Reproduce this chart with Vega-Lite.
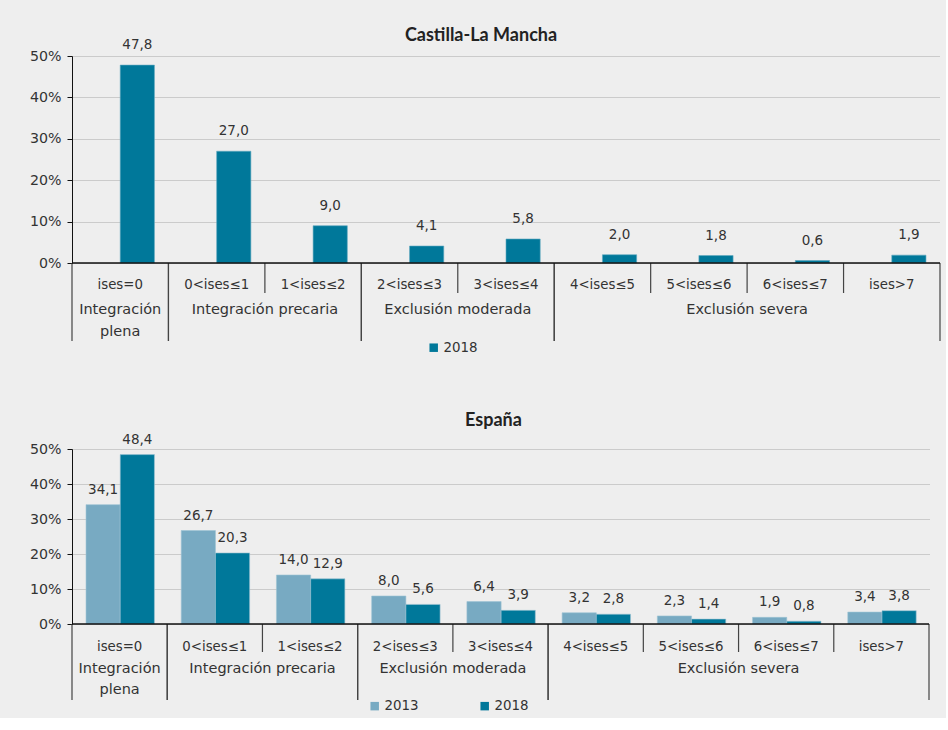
{
  "$schema": "https://vega.github.io/schema/vega-lite/v6.json",
  "background": "#EEEEEE",
  "padding": {"left": 29, "top": 27, "right": 5, "bottom": 5},
  "spacing": 56,
  "config": {
    "locale": {"number": {"decimal": ",", "thousands": ".", "grouping": [3], "currency": ["", " €"]}},
    "font": "DejaVu Sans",
    "view": {"stroke": null},
    "title": {"fontSize": 18, "fontWeight": "bold", "color": "#222222", "font": "Lato"},
    "axis": {"labelFont": "DejaVu Sans", "labelFontSize": 14.2, "labelColor": "#333333", "labelOverlap": false, "grid": true, "gridColor": "#A8A8A8", "gridDash": [1, 1], "gridWidth": 1, "gridOpacity": 1, "domainColor": "#111111", "tickColor": "#111111", "tickSize": 5, "labelPadding": 6, "title": null}
  },
  "resolve": {"scale": {"color": "independent"}, "legend": {"color": "independent"}},
  "datasets": {
    "clm": [
      {"cat": "ises=0", "year": "2018", "value": 47.8},
      {"cat": "0<ises≤1", "year": "2018", "value": 27.0},
      {"cat": "1<ises≤2", "year": "2018", "value": 9.0},
      {"cat": "2<ises≤3", "year": "2018", "value": 4.1},
      {"cat": "3<ises≤4", "year": "2018", "value": 5.8},
      {"cat": "4<ises≤5", "year": "2018", "value": 2.0},
      {"cat": "5<ises≤6", "year": "2018", "value": 1.8},
      {"cat": "6<ises≤7", "year": "2018", "value": 0.6},
      {"cat": "ises>7", "year": "2018", "value": 1.9}
    ],
    "esp": [
      {"cat": "ises=0", "year": "2013", "value": 34.1},
      {"cat": "ises=0", "year": "2018", "value": 48.4},
      {"cat": "0<ises≤1", "year": "2013", "value": 26.7},
      {"cat": "0<ises≤1", "year": "2018", "value": 20.3},
      {"cat": "1<ises≤2", "year": "2013", "value": 14.0},
      {"cat": "1<ises≤2", "year": "2018", "value": 12.9},
      {"cat": "2<ises≤3", "year": "2013", "value": 8.0},
      {"cat": "2<ises≤3", "year": "2018", "value": 5.6},
      {"cat": "3<ises≤4", "year": "2013", "value": 6.4},
      {"cat": "3<ises≤4", "year": "2018", "value": 3.9},
      {"cat": "4<ises≤5", "year": "2013", "value": 3.2},
      {"cat": "4<ises≤5", "year": "2018", "value": 2.8},
      {"cat": "5<ises≤6", "year": "2013", "value": 2.3},
      {"cat": "5<ises≤6", "year": "2018", "value": 1.4},
      {"cat": "6<ises≤7", "year": "2013", "value": 1.9},
      {"cat": "6<ises≤7", "year": "2018", "value": 0.8},
      {"cat": "ises>7", "year": "2013", "value": 3.4},
      {"cat": "ises>7", "year": "2018", "value": 3.8}
    ],
    "cats": [
      {"cat": "ises=0"}, {"cat": "0<ises≤1"}, {"cat": "1<ises≤2"}, {"cat": "2<ises≤3"}, {"cat": "3<ises≤4"},
      {"cat": "4<ises≤5"}, {"cat": "5<ises≤6"}, {"cat": "6<ises≤7"}, {"cat": "ises>7"}
    ],
    "groups": [
      {"grupo": "Integración plena", "first": "ises=0", "last": "ises=0", "anchor": "ises=0"},
      {"grupo": "Integración precaria", "first": "0<ises≤1", "last": "1<ises≤2", "anchor": "1<ises≤2"},
      {"grupo": "Exclusión moderada", "first": "2<ises≤3", "last": "3<ises≤4", "anchor": "3<ises≤4"},
      {"grupo": "Exclusión severa", "first": "4<ises≤5", "last": "ises>7", "anchor": "6<ises≤7"}
    ]
  },
  "vconcat": [
    {
      "width": 868,
      "height": 207,
      "title": {"text": "Castilla-La Mancha", "dx": -25, "offset": -7},
      "layer": [
        {
          "data": {"name": "clm"},
          "mark": {"type": "bar", "stroke": "#5FA8C0", "strokeWidth": 0.6},
          "encoding": {
            "x": {"field": "cat", "type": "nominal", "axis": null, "scale": {"domain": ["ises=0", "0<ises≤1", "1<ises≤2", "2<ises≤3", "3<ises≤4", "4<ises≤5", "5<ises≤6", "6<ises≤7", "ises>7"], "paddingInner": 0, "paddingOuter": 0}},
            "xOffset": {"field": "year", "type": "nominal", "scale": {"domain": ["2013", "2018"], "paddingInner": 0, "paddingOuter": 0.41}},
            "y": {"field": "value", "type": "quantitative", "scale": {"domain": [0, 50]}, "axis": {"values": [0, 10, 20, 30, 40, 50], "labelExpr": "datum.value + '%'"}},
            "color": {"field": "year", "type": "nominal", "scale": {"domain": ["2018"], "range": ["#00789A"]}, "legend": {"orient": "none", "legendX": 355, "legendY": 285, "direction": "horizontal", "title": null, "symbolType": "square", "symbolSize": 72, "symbolStrokeWidth": 0, "labelOffset": 3, "labelFontSize": 13.4, "labelColor": "#333333", "labelFont": "DejaVu Sans"}}
          }
        },
        {
          "data": {"name": "clm"},
          "mark": {"type": "text", "dy": -20, "fontSize": 13.5, "color": "#333333"},
          "encoding": {
            "x": {"field": "cat", "type": "nominal", "scale": {"domain": ["ises=0", "0<ises≤1", "1<ises≤2", "2<ises≤3", "3<ises≤4", "4<ises≤5", "5<ises≤6", "6<ises≤7", "ises>7"]}},
            "xOffset": {"field": "year", "type": "nominal"},
            "y": {"field": "value", "type": "quantitative", "axis": {"values": [0, 10, 20, 30, 40, 50], "labelExpr": "datum.value + '%'"}},
            "text": {"field": "value", "type": "quantitative", "format": ".1f"}
          }
        },
        {
          "data": {"name": "cats"},
          "transform": [{"filter": {"field": "cat", "oneOf": ["1<ises≤2", "3<ises≤4", "5<ises≤6", "6<ises≤7", "ises>7"]}}],
          "mark": {"type": "rule", "color": "#444444", "strokeWidth": 1.2, "y2Offset": 30},
          "encoding": {
            "x": {"field": "cat", "type": "nominal", "bandPosition": 0},
            "y": {"datum": 0, "axis": {"values": [0, 10, 20, 30, 40, 50], "labelExpr": "datum.value + '%'"}},
            "y2": {"datum": 0}
          }
        },
        {
          "data": {"name": "groups"},
          "mark": {"type": "rule", "color": "#444444", "strokeWidth": 1.2, "y2Offset": 78},
          "encoding": {
            "x": {"field": "first", "type": "nominal", "bandPosition": 0},
            "y": {"datum": 0, "axis": {"values": [0, 10, 20, 30, 40, 50], "labelExpr": "datum.value + '%'"}},
            "y2": {"datum": 0}
          }
        },
        {
          "data": {"name": "groups"},
          "mark": {"type": "rule", "color": "#444444", "strokeWidth": 1.2, "y2Offset": 78},
          "encoding": {
            "x": {"field": "last", "type": "nominal", "bandPosition": 1},
            "y": {"datum": 0, "axis": {"values": [0, 10, 20, 30, 40, 50], "labelExpr": "datum.value + '%'"}},
            "y2": {"datum": 0}
          }
        },
        {
          "data": {"name": "cats"},
          "transform": [{"filter": {"field": "cat", "equal": "ises=0"}}],
          "mark": {"type": "rule", "color": "#111111", "strokeWidth": 1.5},
          "encoding": {"y": {"datum": 0, "axis": {"values": [0, 10, 20, 30, 40, 50], "labelExpr": "datum.value + '%'"}}}
        },
        {
          "data": {"name": "cats"},
          "mark": {"type": "text", "dy": 22, "fontSize": 13.3, "color": "#333333"},
          "encoding": {
            "x": {"field": "cat", "type": "nominal", "bandPosition": 0.5},
            "y": {"datum": 0, "axis": {"values": [0, 10, 20, 30, 40, 50], "labelExpr": "datum.value + '%'"}},
            "text": {"field": "cat"}
          }
        },
        {
          "data": {"name": "groups"},
          "transform": [{"filter": {"field": "grupo", "equal": "Integración plena"}}],
          "mark": {"type": "text", "dy": 47, "baseline": "middle", "fontSize": 14.5, "color": "#333333", "lineBreak": " ", "lineHeight": 22},
          "encoding": {
            "x": {"field": "anchor", "type": "nominal", "bandPosition": 0.5},
            "y": {"datum": 0, "axis": {"values": [0, 10, 20, 30, 40, 50], "labelExpr": "datum.value + '%'"}},
            "text": {"field": "grupo"}
          }
        },
        {
          "data": {"name": "groups"},
          "transform": [{"filter": {"not": {"field": "grupo", "equal": "Integración plena"}}}],
          "mark": {"type": "text", "dy": 47, "baseline": "middle", "fontSize": 14.5, "color": "#333333"},
          "encoding": {
            "x": {"field": "anchor", "type": "nominal", "bandPosition": 0},
            "y": {"datum": 0, "axis": {"values": [0, 10, 20, 30, 40, 50], "labelExpr": "datum.value + '%'"}},
            "text": {"field": "grupo"}
          }
        }
      ]
    },
    {
      "width": 857,
      "height": 175,
      "title": {"text": "España", "dx": -7, "offset": 3},
      "layer": [
        {
          "data": {"name": "esp"},
          "mark": {"type": "bar", "stroke": "#9CC3D3", "strokeWidth": 0.6},
          "encoding": {
            "x": {"field": "cat", "type": "nominal", "axis": null, "scale": {"domain": ["ises=0", "0<ises≤1", "1<ises≤2", "2<ises≤3", "3<ises≤4", "4<ises≤5", "5<ises≤6", "6<ises≤7", "ises>7"], "paddingInner": 0, "paddingOuter": 0}},
            "xOffset": {"field": "year", "type": "nominal", "scale": {"domain": ["2013", "2018"], "paddingInner": 0, "paddingOuter": 0.42}},
            "y": {"field": "value", "type": "quantitative", "scale": {"domain": [0, 50]}, "axis": {"values": [0, 10, 20, 30, 40, 50], "labelExpr": "datum.value + '%'"}},
            "color": {"field": "year", "type": "nominal", "scale": {"domain": ["2013", "2018"], "range": ["#78AAC2", "#00789A"]}, "legend": {"orient": "none", "legendX": 296, "legendY": 250, "direction": "horizontal", "title": null, "symbolType": "square", "symbolSize": 72, "symbolStrokeWidth": 0, "labelOffset": 3, "labelFontSize": 13.4, "labelColor": "#333333", "labelFont": "DejaVu Sans", "columnPadding": 59}}
          }
        },
        {
          "data": {"name": "esp"},
          "mark": {"type": "text", "dy": -15, "fontSize": 13.5, "color": "#333333"},
          "encoding": {
            "x": {"field": "cat", "type": "nominal", "scale": {"domain": ["ises=0", "0<ises≤1", "1<ises≤2", "2<ises≤3", "3<ises≤4", "4<ises≤5", "5<ises≤6", "6<ises≤7", "ises>7"]}},
            "xOffset": {"field": "year", "type": "nominal"},
            "y": {"field": "value", "type": "quantitative", "axis": {"values": [0, 10, 20, 30, 40, 50], "labelExpr": "datum.value + '%'"}},
            "text": {"field": "value", "type": "quantitative", "format": ".1f"}
          }
        },
        {
          "data": {"name": "cats"},
          "transform": [{"filter": {"field": "cat", "oneOf": ["1<ises≤2", "3<ises≤4", "5<ises≤6", "6<ises≤7", "ises>7"]}}],
          "mark": {"type": "rule", "color": "#444444", "strokeWidth": 1.2, "y2Offset": 28},
          "encoding": {
            "x": {"field": "cat", "type": "nominal", "bandPosition": 0},
            "y": {"datum": 0, "axis": {"values": [0, 10, 20, 30, 40, 50], "labelExpr": "datum.value + '%'"}},
            "y2": {"datum": 0}
          }
        },
        {
          "data": {"name": "groups"},
          "mark": {"type": "rule", "color": "#444444", "strokeWidth": 1.2, "y2Offset": 76},
          "encoding": {
            "x": {"field": "first", "type": "nominal", "bandPosition": 0},
            "y": {"datum": 0, "axis": {"values": [0, 10, 20, 30, 40, 50], "labelExpr": "datum.value + '%'"}},
            "y2": {"datum": 0}
          }
        },
        {
          "data": {"name": "groups"},
          "mark": {"type": "rule", "color": "#444444", "strokeWidth": 1.2, "y2Offset": 76},
          "encoding": {
            "x": {"field": "last", "type": "nominal", "bandPosition": 1},
            "y": {"datum": 0, "axis": {"values": [0, 10, 20, 30, 40, 50], "labelExpr": "datum.value + '%'"}},
            "y2": {"datum": 0}
          }
        },
        {
          "data": {"name": "cats"},
          "transform": [{"filter": {"field": "cat", "equal": "ises=0"}}],
          "mark": {"type": "rule", "color": "#111111", "strokeWidth": 1.5},
          "encoding": {"y": {"datum": 0, "axis": {"values": [0, 10, 20, 30, 40, 50], "labelExpr": "datum.value + '%'"}}}
        },
        {
          "data": {"name": "cats"},
          "mark": {"type": "text", "dy": 23, "fontSize": 13.3, "color": "#333333"},
          "encoding": {
            "x": {"field": "cat", "type": "nominal", "bandPosition": 0.5},
            "y": {"datum": 0, "axis": {"values": [0, 10, 20, 30, 40, 50], "labelExpr": "datum.value + '%'"}},
            "text": {"field": "cat"}
          }
        },
        {
          "data": {"name": "groups"},
          "transform": [{"filter": {"field": "grupo", "equal": "Integración plena"}}],
          "mark": {"type": "text", "dy": 45, "baseline": "middle", "fontSize": 14.5, "color": "#333333", "lineBreak": " ", "lineHeight": 21},
          "encoding": {
            "x": {"field": "anchor", "type": "nominal", "bandPosition": 0.5},
            "y": {"datum": 0, "axis": {"values": [0, 10, 20, 30, 40, 50], "labelExpr": "datum.value + '%'"}},
            "text": {"field": "grupo"}
          }
        },
        {
          "data": {"name": "groups"},
          "transform": [{"filter": {"not": {"field": "grupo", "equal": "Integración plena"}}}],
          "mark": {"type": "text", "dy": 45, "baseline": "middle", "fontSize": 14.5, "color": "#333333"},
          "encoding": {
            "x": {"field": "anchor", "type": "nominal", "bandPosition": 0},
            "y": {"datum": 0, "axis": {"values": [0, 10, 20, 30, 40, 50], "labelExpr": "datum.value + '%'"}},
            "text": {"field": "grupo"}
          }
        }
      ]
    }
  ]
}
